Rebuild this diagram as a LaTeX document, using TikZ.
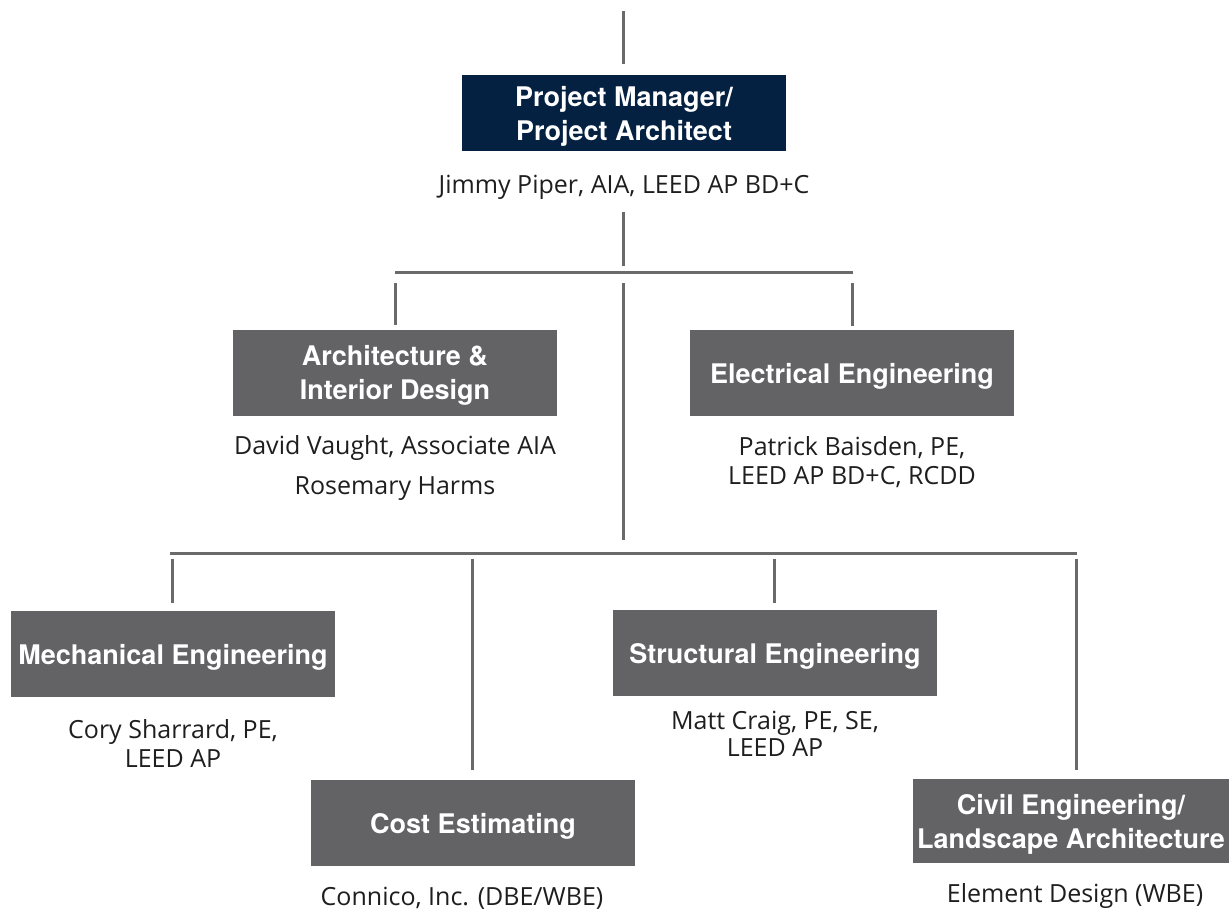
\documentclass[tikz,border=0pt]{standalone}
\usepackage{fontspec}
\usetikzlibrary{calc}
\setmainfont{Open Sans}
\newfontfamily\headfont{TeX Gyre Heros}
\definecolor{navy}{HTML}{042142}
\definecolor{boxgray}{HTML}{636366}
\definecolor{linegray}{HTML}{6A6A6A}
\definecolor{nametext}{HTML}{1E1E1E}
% taller first line so the heading sits a little low in its box
\newcommand{\hdstrut}{\rule{0pt}{26pt}}
\begin{document}
\begin{tikzpicture}[x=1pt,y=-1pt,
  rolebox/.style={rectangle, fill=boxgray, text=white, inner sep=0pt,
    minimum width=324pt, minimum height=86pt, align=center,
    font=\headfont\bfseries\fontsize{27}{34}\selectfont},
  person/.style={inner sep=0pt, align=center, text=nametext,
    font=\fontsize{25}{29}\selectfont},
  link/.style={draw=linegray, line width=3pt}]
\useasboundingbox (0,0) rectangle (1230,909);

% role boxes and the people under them
\node[rolebox, fill=navy, minimum height=76pt] (pm) at (624,113) {\hdstrut Project Manager/\\Project Architect};
\node[person] (pmname) at (624,187) {Jimmy Piper, AIA, LEED AP BD+C};

\node[rolebox] (arch) at (395,372.5) {\hdstrut Architecture \&\\Interior Design};
\node[person, font=\fontsize{25}{40}\selectfont] (archname) at (395,468) {David Vaught, Associate AIA\\Rosemary Harms};

\node[rolebox] (elec) at (852,373) {\hdstrut Electrical Engineering};
\node[person] (elecname) at (852,462) {Patrick Baisden, PE,\\LEED AP BD+C, RCDD};

\node[rolebox] (mech) at (173,654) {\hdstrut Mechanical Engineering};
\node[person] (mechname) at (173,743) {Cory Sharrard, PE,\\LEED AP};

\node[rolebox] (struct) at (775,653) {\hdstrut Structural Engineering};
\node[person, font=\fontsize{25}{27}\selectfont] (structname) at (775,734) {Matt Craig, PE, SE,\\LEED AP};

\node[rolebox] (cost) at (473,823) {\hdstrut Cost Estimating};
\node[person] (costname) at (462,898) {Connico, Inc. (DBE/WBE)};

\node[rolebox, minimum width=316pt, minimum height=84pt] (civil) at (1071,821) {\hdstrut Civil Engineering/\\Landscape Architecture};
\node[person] (civilname) at (1075,896) {Element Design (WBE)};

% connector end points
\coordinate (top) at (623,11);
\coordinate (pmdropA) at (623,212);
\coordinate (pmdropB) at (623,266);
\coordinate (barAL) at (395,272);
\coordinate (barAR) at (853,272);
\coordinate (archtop) at (395,283);
\coordinate (electop) at (852,283);
\coordinate (trunkA) at (623,283);
\coordinate (trunkB) at (623,540);
\coordinate (barBL) at (170,553);
\coordinate (barBR) at (1077,553);
\coordinate (mechtop) at (172,559);
\coordinate (costtop) at (472,559);
\coordinate (structtop) at (774,559);
\coordinate (civiltop) at (1076,559);

% connectors, each stopping short of the box it leads to
\draw[link] (top) -- ($(pm.north)+(-1,-11)$);
\draw[link] (pmdropA) -- (pmdropB);
\draw[link] (barAL) -- (barAR);
\draw[link] (archtop) -- (archtop |- {$(arch.north)+(0,-4)$});
\draw[link] (electop) -- (electop |- {$(elec.north)+(0,-4)$});
\draw[link] (trunkA) -- (trunkB);
\draw[link] (barBL) -- (barBR);
\draw[link] (mechtop) -- (mechtop |- {$(mech.north)+(0,-8)$});
\draw[link] (costtop) -- (costtop |- {$(cost.north)+(0,-10)$});
\draw[link] (structtop) -- (structtop |- {$(struct.north)+(0,-7)$});
\draw[link] (civiltop) -- (civiltop |- {$(civil.north)+(0,-9)$});
\end{tikzpicture}
\end{document}
